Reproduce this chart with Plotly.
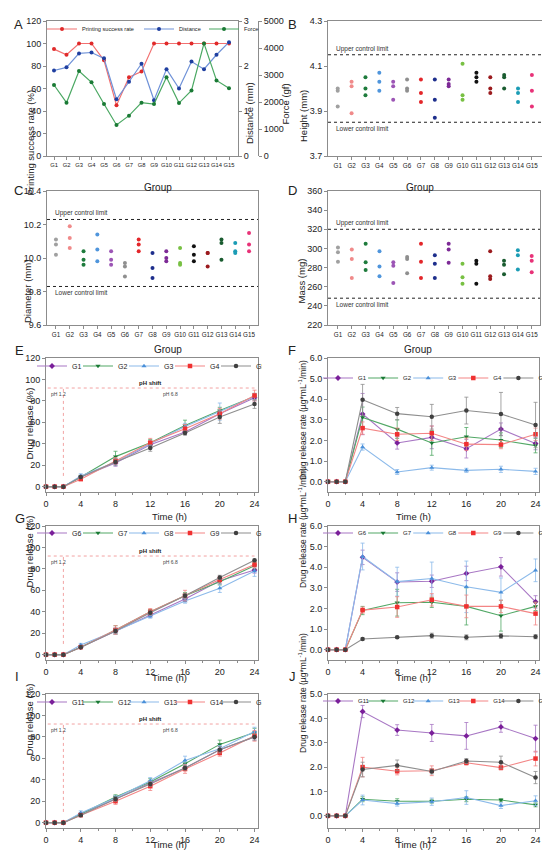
import plotly.graph_objects as go

# the page body keeps its default 8px margin, so the figure is drawn 8px smaller
# and all positions below are given in page pixels and shifted by OFF
OFF = 8
W, H = 550 - OFF, 862 - OFF
FONT = "Liberation Sans, Arial, sans-serif"

groups = [f"G{i}" for i in range(1, 16)]

# panel A
success_rate = [95, 90, 100, 100, 85, 45, 70, 75, 100, 100, 100, 100, 100, 100, 100]
distance = [1.9, 1.97, 2.28, 2.3, 2.17, 1.26, 1.65, 2.05, 1.24, 1.93, 1.5, 2.1, 1.93, 2.25, 2.53]
force = [2630, 1975, 3150, 2730, 1925, 1150, 1495, 1975, 1925, 2915, 1960, 2430, 4170, 2800, 2505]

# panels B-D, three tablets per group
height = [[4.0, 3.99, 3.92], [4.03, 4.01, 3.89], [4.05, 4.0, 3.97], [4.07, 4.03, 3.99],
          [4.03, 4.01, 3.95], [4.04, 4.0, 3.99], [4.04, 3.98, 3.94], [4.04, 3.95, 3.87],
          [4.04, 4.02, 4.01], [4.11, 3.97, 3.95], [4.07, 4.05, 4.03], [4.05, 4.0, 3.98],
          [4.06, 4.05, 4.0], [4.0, 3.98, 3.94], [4.06, 3.99, 3.92]]
diameter = [[10.11, 10.08, 10.02], [10.19, 10.12, 10.06], [10.04, 9.99, 9.96], [10.14, 10.05, 9.98],
            [10.04, 9.99, 9.96], [9.97, 9.95, 9.89], [10.11, 10.08, 10.04], [10.03, 9.94, 9.88],
            [10.04, 10.0, 9.98], [10.06, 9.97, 9.96], [10.07, 10.02, 9.98], [10.03, 10.03, 9.95],
            [10.11, 10.09, 9.99], [10.09, 10.04, 10.03], [10.15, 10.08, 10.04]]
mass = [[301, 296, 286], [299, 289, 269], [305, 285.5, 277.5], [297, 281, 271],
        [285.5, 282, 264], [291, 289, 274], [305, 286, 269], [293, 284, 269],
        [305, 299, 285], [284, 270, 263], [287, 284, 263], [297, 271, 268],
        [287, 283, 273], [298, 293, 278], [292, 287, 275]]
group_colors = ["#a0a0a0", "#f08a8a", "#1e7b3c", "#4f95dc", "#9c55b5", "#8f8f8f", "#e3262a", "#1d2e8c",
                "#7d2a96", "#78c043", "#111111", "#9b1b1e", "#1a5c30", "#1b9cb5", "#e83278"]

# panels E-J
time_h = [0, 1, 2, 4, 8, 12, 16, 20, 24]

release_E = {
    "G1": [0, 0, 0, 9, 22, 39, 51, 68, 83],
    "G2": [0, 0, 0, 9, 28, 41, 57, 71, 84],
    "G3": [0, 0, 0, 10, 23, 40, 56, 70, 84],
    "G4": [0, 0, 0, 7, 24, 41, 54, 68, 85],
    "G5": [0, 0, 0, 9, 23, 36, 50, 65, 77],
}
release_E_err = {
    "G1": [0, 0, 0, 1.5, 3, 3, 2, 3, 3],
    "G2": [0, 0, 0, 1.5, 5, 3, 5, 3, 3],
    "G3": [0, 0, 0, 2, 3, 3, 3, 8, 3],
    "G4": [0, 0, 0, 1, 3, 4, 4, 5, 5],
    "G5": [0, 0, 0, 1.5, 3, 3, 2, 6, 4],
}
rate_F = {
    "G1": [0, 0, 0, 3.28, 1.88, 2.15, 1.6, 2.55, 1.85],
    "G2": [0, 0, 0, 3.12, 2.55, 1.88, 2.18, 2.02, 1.75],
    "G3": [0, 0, 0, 1.68, 0.47, 0.68, 0.55, 0.6, 0.5],
    "G4": [0, 0, 0, 2.6, 2.3, 2.35, 1.82, 1.8, 2.3],
    "G5": [0, 0, 0, 3.97, 3.3, 3.15, 3.45, 3.28, 2.75],
}
rate_F_err = {
    "G1": [0, 0, 0, 1.0, 0.3, 0.55, 0.45, 0.3, 0.3],
    "G2": [0, 0, 0, 0.5, 0.45, 0.6, 0.45, 0.35, 0.35],
    "G3": [0, 0, 0, 0.15, 0.12, 0.12, 0.1, 0.15, 0.15],
    "G4": [0, 0, 0, 0.3, 0.3, 0.35, 0.3, 0.2, 0.3],
    "G5": [0, 0, 0, 0.75, 0.3, 0.6, 0.65, 1.05, 1.1],
}
release_G = {
    "G6": [0, 0, 0, 7, 22, 37, 52, 69, 79],
    "G7": [0, 0, 0, 7, 23, 40, 55, 68, 83],
    "G8": [0, 0, 0, 9, 22, 36, 50, 62, 78],
    "G9": [0, 0, 0, 7, 23, 40, 55, 70, 84],
    "G10": [0, 0, 0, 7, 22, 39, 55, 72, 88],
}
release_G_err = {
    "G6": [0, 0, 0, 1, 2, 2, 2, 3, 3],
    "G7": [0, 0, 0, 1, 4, 2, 3, 3, 3],
    "G8": [0, 0, 0, 1.5, 3, 2, 2, 4, 5],
    "G9": [0, 0, 0, 1, 4, 3, 5, 3, 3],
    "G10": [0, 0, 0, 1, 2, 2, 2, 2, 1],
}
rate_H = {
    "G6": [0, 0, 0, 4.48, 3.28, 3.32, 3.7, 4.02, 2.32],
    "G7": [0, 0, 0, 1.9, 2.28, 2.3, 2.1, 1.65, 2.1],
    "G8": [0, 0, 0, 4.52, 3.3, 3.45, 3.05, 2.78, 3.85],
    "G9": [0, 0, 0, 1.92, 2.07, 2.42, 2.1, 2.1, 1.75],
    "G10": [0, 0, 0, 0.52, 0.6, 0.68, 0.6, 0.67, 0.63],
}
rate_H_err = {
    "G6": [0, 0, 0, 0.35, 0.45, 0.3, 0.35, 0.45, 0.3],
    "G7": [0, 0, 0, 0.2, 0.65, 0.25, 0.9, 0.75, 0.2],
    "G8": [0, 0, 0, 0.65, 0.7, 0.8, 1.25, 0.7, 0.55],
    "G9": [0, 0, 0, 0.15, 0.5, 0.3, 0.55, 0.3, 0.55],
    "G10": [0, 0, 0, 0.05, 0.05, 0.12, 0.12, 0.12, 0.1],
}
release_I = {
    "G11": [0, 0, 0, 8, 22, 37, 51, 68, 80],
    "G12": [0, 0, 0, 8, 24, 38, 55, 73, 84],
    "G13": [0, 0, 0, 9, 23, 39, 58, 69, 85],
    "G14": [0, 0, 0, 7, 20, 34, 50, 65, 81],
    "G15": [0, 0, 0, 7, 22, 36, 51, 68, 80],
}
release_I_err = {
    "G11": [0, 0, 0, 1, 2, 2, 2, 3, 3],
    "G12": [0, 0, 0, 1, 2, 3, 3, 4, 4],
    "G13": [0, 0, 0, 2, 2, 3, 4, 3, 4],
    "G14": [0, 0, 0, 1, 3, 4, 4, 3, 5],
    "G15": [0, 0, 0, 1, 2, 2, 2, 3, 3],
}
rate_J = {
    "G11": [0, 0, 0, 4.28, 3.52, 3.4, 3.28, 3.65, 3.17],
    "G12": [0, 0, 0, 0.68, 0.6, 0.6, 0.68, 0.65, 0.45],
    "G13": [0, 0, 0, 0.65, 0.5, 0.58, 0.75, 0.42, 0.62],
    "G14": [0, 0, 0, 2.0, 1.83, 1.85, 2.18, 1.98, 2.35],
    "G15": [0, 0, 0, 1.9, 2.07, 1.82, 2.25, 2.2, 1.57],
}
rate_J_err = {
    "G11": [0, 0, 0, 0.25, 0.22, 0.35, 0.55, 0.22, 0.55],
    "G12": [0, 0, 0, 0.1, 0.1, 0.08, 0.1, 0.05, 0.08],
    "G13": [0, 0, 0, 0.2, 0.1, 0.15, 0.28, 0.12, 0.2],
    "G14": [0, 0, 0, 0.4, 0.15, 0.2, 0.1, 0.1, 0.3],
    "G15": [0, 0, 0, 0.3, 0.22, 0.1, 0.1, 0.25, 0.25],
}

series_marker = ["#7a1f9a", "#1a7a35", "#4a90d9", "#f03030", "#404040"]
series_line = ["#a877c4", "#52a866", "#8cbaea", "#f38585", "#8e8e8e"]
series_symbol = ["diamond", "triangle-down", "triangle-up", "square", "circle"]


def px(x):
    return (x - OFF) / W


def py(y):
    return 1 - (y - OFF) / H


def xd(a, b):
    return [px(a), px(b)]


def yd(top, bottom):
    return [py(bottom), py(top)]


AX = dict(showline=True, linecolor="#8c8c8c", linewidth=1, mirror=True, ticks="outside",
          ticklen=3, tickcolor="#8c8c8c", showgrid=False, zeroline=False,
          tickfont=dict(size=9, color="#222"))

fig = go.Figure()
annos = []
shapes = []


def label(text, x, y, size=9.5, angle=0, **kw):
    annos.append(dict(text=text, x=px(x), y=py(y), xref="paper", yref="paper",
                      showarrow=False, textangle=angle, font=dict(size=size, color="#222"), **kw))


# ---- A
a_specs = [("Printing success rate", success_rate, "y", "#f27070", "#e02a2a", 52),
           ("Distance", distance, "y2", "#6f92d8", "#1f3fa0", 20),
           ("Force", force, "y3", "#4aa862", "#1a7a35", 18)]
for name, vals, yax, lc, mc, lw in a_specs:
    fig.add_trace(go.Scatter(x=groups, y=vals, name=name, xaxis="x", yaxis=yax, mode="lines+markers",
                             line=dict(color=lc, width=1.2), marker=dict(color=mc, size=4),
                             legend="legend", legendwidth=lw, cliponaxis=False))

# ---- B, C, D
bcd = [(height, "x2", "y4"), (diameter, "x3", "y5"), (mass, "x4", "y6")]
for reps, xa, ya in bcd:
    for g, vals, col in zip(groups, reps, group_colors):
        fig.add_trace(go.Scatter(x=[g] * len(vals), y=vals, xaxis=xa, yaxis=ya, mode="markers",
                                 marker=dict(color=col, size=4), showlegend=False))

# ---- E-J
panels = [(release_E, release_E_err, "x5", "y7", "legend2"),
          (rate_F, rate_F_err, "x6", "y8", "legend3"),
          (release_G, release_G_err, "x7", "y9", "legend4"),
          (rate_H, rate_H_err, "x8", "y10", "legend5"),
          (release_I, release_I_err, "x9", "y11", "legend6"),
          (rate_J, rate_J_err, "x10", "y12", "legend7")]
for data, errs, xa, ya, lg in panels:
    for i, (name, vals) in enumerate(data.items()):
        fig.add_trace(go.Scatter(
            x=time_h, y=vals, name=name, xaxis=xa, yaxis=ya, mode="lines+markers", legend=lg,
            line=dict(color=series_line[i], width=1.1),
            marker=dict(color=series_marker[i], size=4.5, symbol=series_symbol[i]),
            error_y=dict(type="data", array=errs[name], color=series_line[i], thickness=0.8, width=2),
            cliponaxis=False))

layout = dict(width=W, height=H, margin=dict(l=0, r=0, t=0, b=0, autoexpand=False),
              plot_bgcolor="white", paper_bgcolor="white", font=dict(family=FONT, color="#222"))

grp_ticks = dict(tickangle=0, tickfont=dict(size=6.3, color="#222"))
layout["xaxis"] = dict(AX, domain=xd(47, 238), anchor="y", range=[-0.56, 14.72],
                       tickangle=0, tickfont=dict(size=5.8, color="#222"))
layout["yaxis"] = dict(AX, domain=yd(21, 156), anchor="x", range=[0, 120], dtick=20, mirror=False)
layout["yaxis2"] = dict(AX, overlaying="y", anchor="x", side="right", range=[0, 3], dtick=1, mirror=False)
layout["yaxis3"] = dict(AX, overlaying="y", anchor="free", position=px(258), side="right",
                        range=[0, 5000], dtick=1000, mirror=False)

layout["xaxis2"] = dict(AX, domain=xd(328, 543), anchor="y4", range=[-0.7, 14.8], **grp_ticks)
layout["yaxis4"] = dict(AX, domain=yd(21, 156), anchor="x2", range=[3.7, 4.3], tick0=3.7, dtick=0.2,
                        tickformat=".1f")
layout["xaxis3"] = dict(AX, domain=xd(47, 258), anchor="y5", range=[-0.65, 14.65], **grp_ticks)
layout["yaxis5"] = dict(AX, domain=yd(191, 325), anchor="x3", range=[9.6, 10.4], dtick=0.2,
                        tickformat=".1f")
layout["xaxis4"] = dict(AX, domain=xd(328, 540), anchor="y6", range=[-0.72, 14.6], **grp_ticks)
layout["yaxis6"] = dict(AX, domain=yd(191, 325), anchor="x4", range=[220, 360], dtick=20)

boxes = [("xaxis5", "yaxis7", 46, 258, 358, 492, [-5, 120], 20, None),
         ("xaxis6", "yaxis8", 328, 539, 358, 492, [-0.5, 6], 1, ".1f"),
         ("xaxis7", "yaxis9", 46, 258, 526, 660, [-5, 120], 20, None),
         ("xaxis8", "yaxis10", 328, 539, 526, 660, [-0.5, 6], 1, ".1f"),
         ("xaxis9", "yaxis11", 46, 258, 694, 828, [-5, 120], 20, None),
         ("xaxis10", "yaxis12", 328, 539, 694, 828, [-0.5, 5], 1, ".1f")]
for xa, ya, x0, x1, top, bot, yr, dt, fmt in boxes:
    layout[xa] = dict(AX, domain=xd(x0, x1), anchor=ya.replace("axis", ""), range=[0, 24.4],
                      dtick=4, tickfont=dict(size=9, color="#222"),
                      minor=dict(dtick=2, ticks="outside", ticklen=2, tickcolor="#8c8c8c"))
    yax = dict(AX, domain=yd(top, bot), anchor=xa.replace("axis", ""), range=yr, tick0=0, dtick=dt)
    if fmt:
        yax["tickformat"] = fmt
    layout[ya] = yax

# legends
leg = dict(orientation="h", bgcolor="rgba(0,0,0,0)", font=dict(size=7, color="#222"),
           itemwidth=30, yanchor="middle", xanchor="left", tracegroupgap=0,
           entrywidthmode="pixels")
layout["legend"] = dict(leg, x=px(42), y=py(29), font=dict(size=5.6, color="#222"))
for name, lx, ly, ew, fs in [("legend2", 32, 366, 1, 7), ("legend3", 318, 378, 0.1, 6),
                             ("legend4", 32, 533, 1, 7), ("legend5", 318, 533, 0.1, 6),
                             ("legend6", 32, 702, 1, 7), ("legend7", 318, 701, 0.1, 6)]:
    layout[name] = dict(leg, x=px(lx), y=py(ly), entrywidth=ew, font=dict(size=fs, color="#222"))

# control limits
limits = [("x2", "y4", 4.15, 3.85), ("x3", "y5", 10.23, 9.83), ("x4", "y6", 320, 248)]
for xa, ya, up, lo in limits:
    for val, txt, shift in [(up, "Upper control limit", 6), (lo, "Lower control limit", -6)]:
        shapes.append(dict(type="line", xref=f"{xa} domain", yref=ya, x0=0, x1=1, y0=val, y1=val,
                           line=dict(color="#222", width=1, dash="dot")))
        annos.append(dict(text=txt, xref=f"{xa} domain", yref=ya, x=0.03, y=val, xanchor="left",
                          yshift=shift, showarrow=False, font=dict(size=6.5, color="#333")))

# pH shift markers
for xa, ya in [("x5", "y7"), ("x7", "y9"), ("x9", "y11")]:
    shapes.append(dict(type="line", xref=xa, yref=ya, x0=0.2, x1=24, y0=92, y1=92,
                       line=dict(color="#f2a3a3", width=1, dash="dot")))
    shapes.append(dict(type="line", xref=xa, yref=ya, x0=2, x1=2, y0=10, y1=92,
                       line=dict(color="#f2a3a3", width=1, dash="dot")))
    annos.append(dict(text="<b>pH shift</b>", xref=xa, yref=ya, x=12, y=92, yanchor="bottom",
                      showarrow=False, font=dict(size=6, color="#222")))
    annos.append(dict(text="pH 1.2", xref=xa, yref=ya, x=0.3, y=91, xanchor="left", yanchor="top",
                      showarrow=False, font=dict(size=5, color="#444")))
    annos.append(dict(text="pH 6.8", xref=xa, yref=ya, x=13.2, y=91, xanchor="left", yanchor="top",
                      showarrow=False, font=dict(size=5, color="#444")))

# axis titles
rate_title = "Drug release rate (µg*mL<sup>-1</sup>/min)"
label("Printing success rate (%)", 22, 88, angle=-90)
label("Distance (mm)", 250, 80, angle=-90)
label("Force (gf)", 285, 82, angle=-90)
label("Height (mm)", 303, 88, angle=-90)
label("Diameter (mm)", 20, 258, angle=-90)
label("Mass (mg)", 301, 257, angle=-90)
for y in [424, 590, 758]:
    label("Drug release (%)", 21, y, angle=-90)
for y in [420, 590, 755]:
    label(rate_title, 302, y, size=8.5, angle=-90)
label("Group", 142, 180, size=10)
label("Group", 436, 180, size=10)
label("Group", 152, 349, size=10)
label("Group", 434, 349, size=10)
for y in [516, 685, 852]:
    label("Time (h)", 150, y)
    label("Time (h)", 433, y)

# panel letters
for t, lx, ly in [("A", 12, 15), ("B", 292, 15), ("C", 12, 181), ("D", 292, 181),
                  ("E", 13, 350), ("F", 292, 350), ("G", 13, 518), ("H", 292, 518),
                  ("I", 13, 686), ("J", 292, 686)]:
    label(t, lx, ly, size=13)

layout["annotations"] = annos
layout["shapes"] = shapes
fig.update_layout(**layout)

fig.write_html("out.html")
